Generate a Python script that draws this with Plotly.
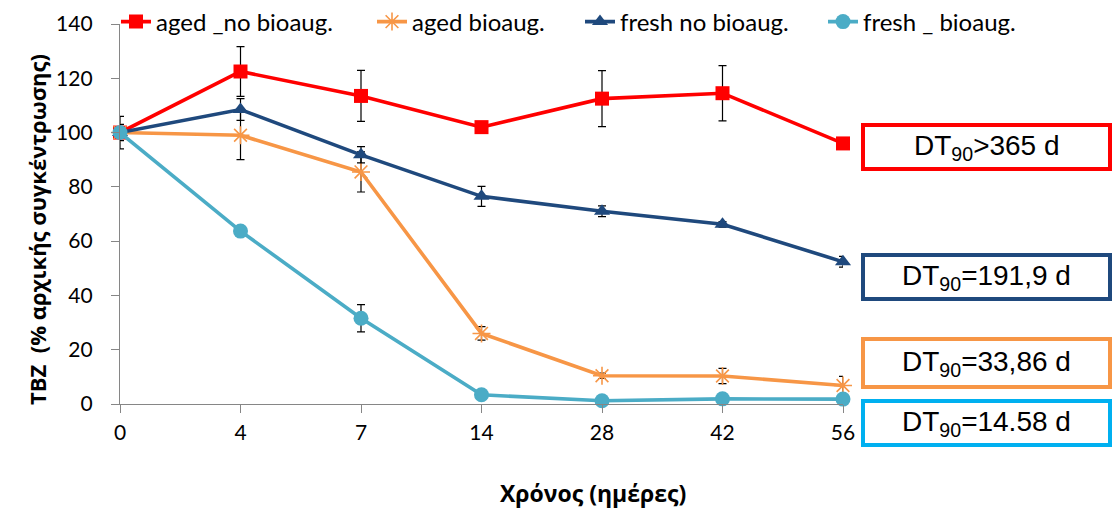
import plotly.graph_objects as go

# Sampling days (categorical axis, equally spaced)
days = ["0", "4", "7", "14", "28", "42", "56"]

# TBZ remaining, % of initial concentration
aged_no_bioaug = [100, 122.5, 113.5, 102, 112.5, 114.5, 96]
aged_no_bioaug_err = [6, 9.2, 9.4, 2, 10.3, 10.2, 0]

aged_bioaug = [100, 99, 85.5, 26, 10.4, 10.3, 6.8]
aged_bioaug_err = [1, 9, 7.4, 2.5, 1, 2.8, 3.4]

fresh_no_bioaug = [100, 108.5, 91.8, 76.5, 71, 66.2, 52.4]
fresh_no_bioaug_err = [3, 4, 3, 3.7, 2, 1, 2]

fresh_bioaug = [100, 63.7, 31.6, 3.4, 1.2, 1.9, 1.8]
fresh_bioaug_err = [2, 1.5, 5, 1, 0.5, 0.5, 0.5]

series_names = ["aged _no bioaug.", "aged bioaug.", "fresh no bioaug.", "fresh _ bioaug."]
dt90_labels = ["DT<sub>90</sub>&gt;365 d", "DT<sub>90</sub>=191,9 d",
               "DT<sub>90</sub>=33,86 d", "DT<sub>90</sub>=14.58 d"]

RED = "#FF0000"
ORANGE = "#F79646"
NAVY = "#1F497D"
TEAL = "#4BACC6"
SKY = "#00B0F0"

W, H = 1114, 508
L, R, T, B = 120, 843, 24, 404   # plot-area edges in pixels


def px(x):
    return (x - L) / (R - L)


def py(y):
    return (B - y) / (B - T)


fig = go.Figure()


def add_series(y, err, name, color, symbol, size, legend, mline=None):
    marker = dict(symbol=symbol, size=size, color=color)
    if mline:
        marker["line"] = mline
    fig.add_trace(go.Scatter(
        x=days, y=y, name=name, mode="lines+markers",
        line=dict(color=color, width=3.6),
        marker=marker,
        cliponaxis=False,
        error_y=dict(type="data", array=err, visible=True,
                     color="black", thickness=1.2, width=4),
        legend=legend,
    ))


add_series(aged_no_bioaug, aged_no_bioaug_err, series_names[0], RED, "square", 14, "legend")
add_series(aged_bioaug, aged_bioaug_err, series_names[1], ORANGE, "asterisk-open", 15, "legend2",
           mline=dict(color=ORANGE, width=1.6))
add_series(fresh_no_bioaug, fresh_no_bioaug_err, series_names[2], NAVY, "triangle-up", 14, "legend3")
add_series(fresh_bioaug, fresh_bioaug_err, series_names[3], TEAL, "circle", 15, "legend4")

legend_font = dict(family="Lato", size=24, color="black")
legend_common = dict(orientation="h", bgcolor="rgba(0,0,0,0)", borderwidth=0,
                     font=legend_font, xanchor="left", yanchor="middle",
                     itemwidth=30)
legend_starts = [121, 377, 585, 828]
legend_keys = ["legend", "legend2", "legend3", "legend4"]
layout_legends = {}
for key, xs in zip(legend_keys, legend_starts):
    layout_legends[key] = dict(legend_common, x=px(xs - 5), y=py(22))

# DT90 boxes on the right
box_specs = [(123, 171, RED), (253, 301, NAVY), (337, 389, ORANGE), (399, 447, SKY)]
shapes = []
annotations = []
for (y0, y1, col), label in zip(box_specs, dt90_labels):
    shapes.append(dict(type="rect", xref="paper", yref="paper",
                       x0=px(863), x1=px(1110), y0=py(y1 - 2), y1=py(y0 + 2),
                       line=dict(color=col, width=4), fillcolor="white"))
    annotations.append(dict(xref="paper", yref="paper", x=px(986.5), y=py((y0 + y1) / 2),
                            text=label, showarrow=False, xanchor="center", yanchor="middle",
                            font=dict(family="Liberation Sans", size=28, color="black")))

# Axis titles
annotations.append(dict(xref="paper", yref="paper", x=px(37), y=py(230),
                        text="<b>TBZ  (% αρχικής συγκέντρωσης)</b>", textangle=-90,
                        showarrow=False, xanchor="center", yanchor="middle",
                        font=dict(family="Open Sans", size=22, color="black")))
annotations.append(dict(xref="paper", yref="paper", x=px(593), y=py(493),
                        text="<b>Χρόνος (ημέρες)</b>",
                        showarrow=False, xanchor="center", yanchor="middle",
                        font=dict(family="Open Sans", size=23, color="black")))

axis_font = dict(family="Lato", size=21, color="black")
fig.update_layout(
    width=W, height=H,
    margin=dict(l=L, r=W - R, t=T, b=H - B, pad=0, autoexpand=False),
    paper_bgcolor="white", plot_bgcolor="white",
    showlegend=True,
    xaxis=dict(type="category", range=[0, 6], showgrid=False, zeroline=False,
               showline=True, linecolor="#868686", linewidth=1.3,
               ticks="outside", ticklen=8, tickcolor="#868686", tickwidth=1.3,
               tickfont=axis_font, ticklabelstandoff=2, automargin=False),
    yaxis=dict(range=[0, 140], dtick=20, showgrid=False, zeroline=False,
               showline=True, linecolor="#868686", linewidth=1.3,
               ticks="outside", ticklen=8, tickcolor="#868686", tickwidth=1.3,
               tickfont=axis_font, ticklabelstandoff=14, automargin=False),
    shapes=shapes,
    annotations=annotations,
    **layout_legends,
)

fig.write_html("out.html")
